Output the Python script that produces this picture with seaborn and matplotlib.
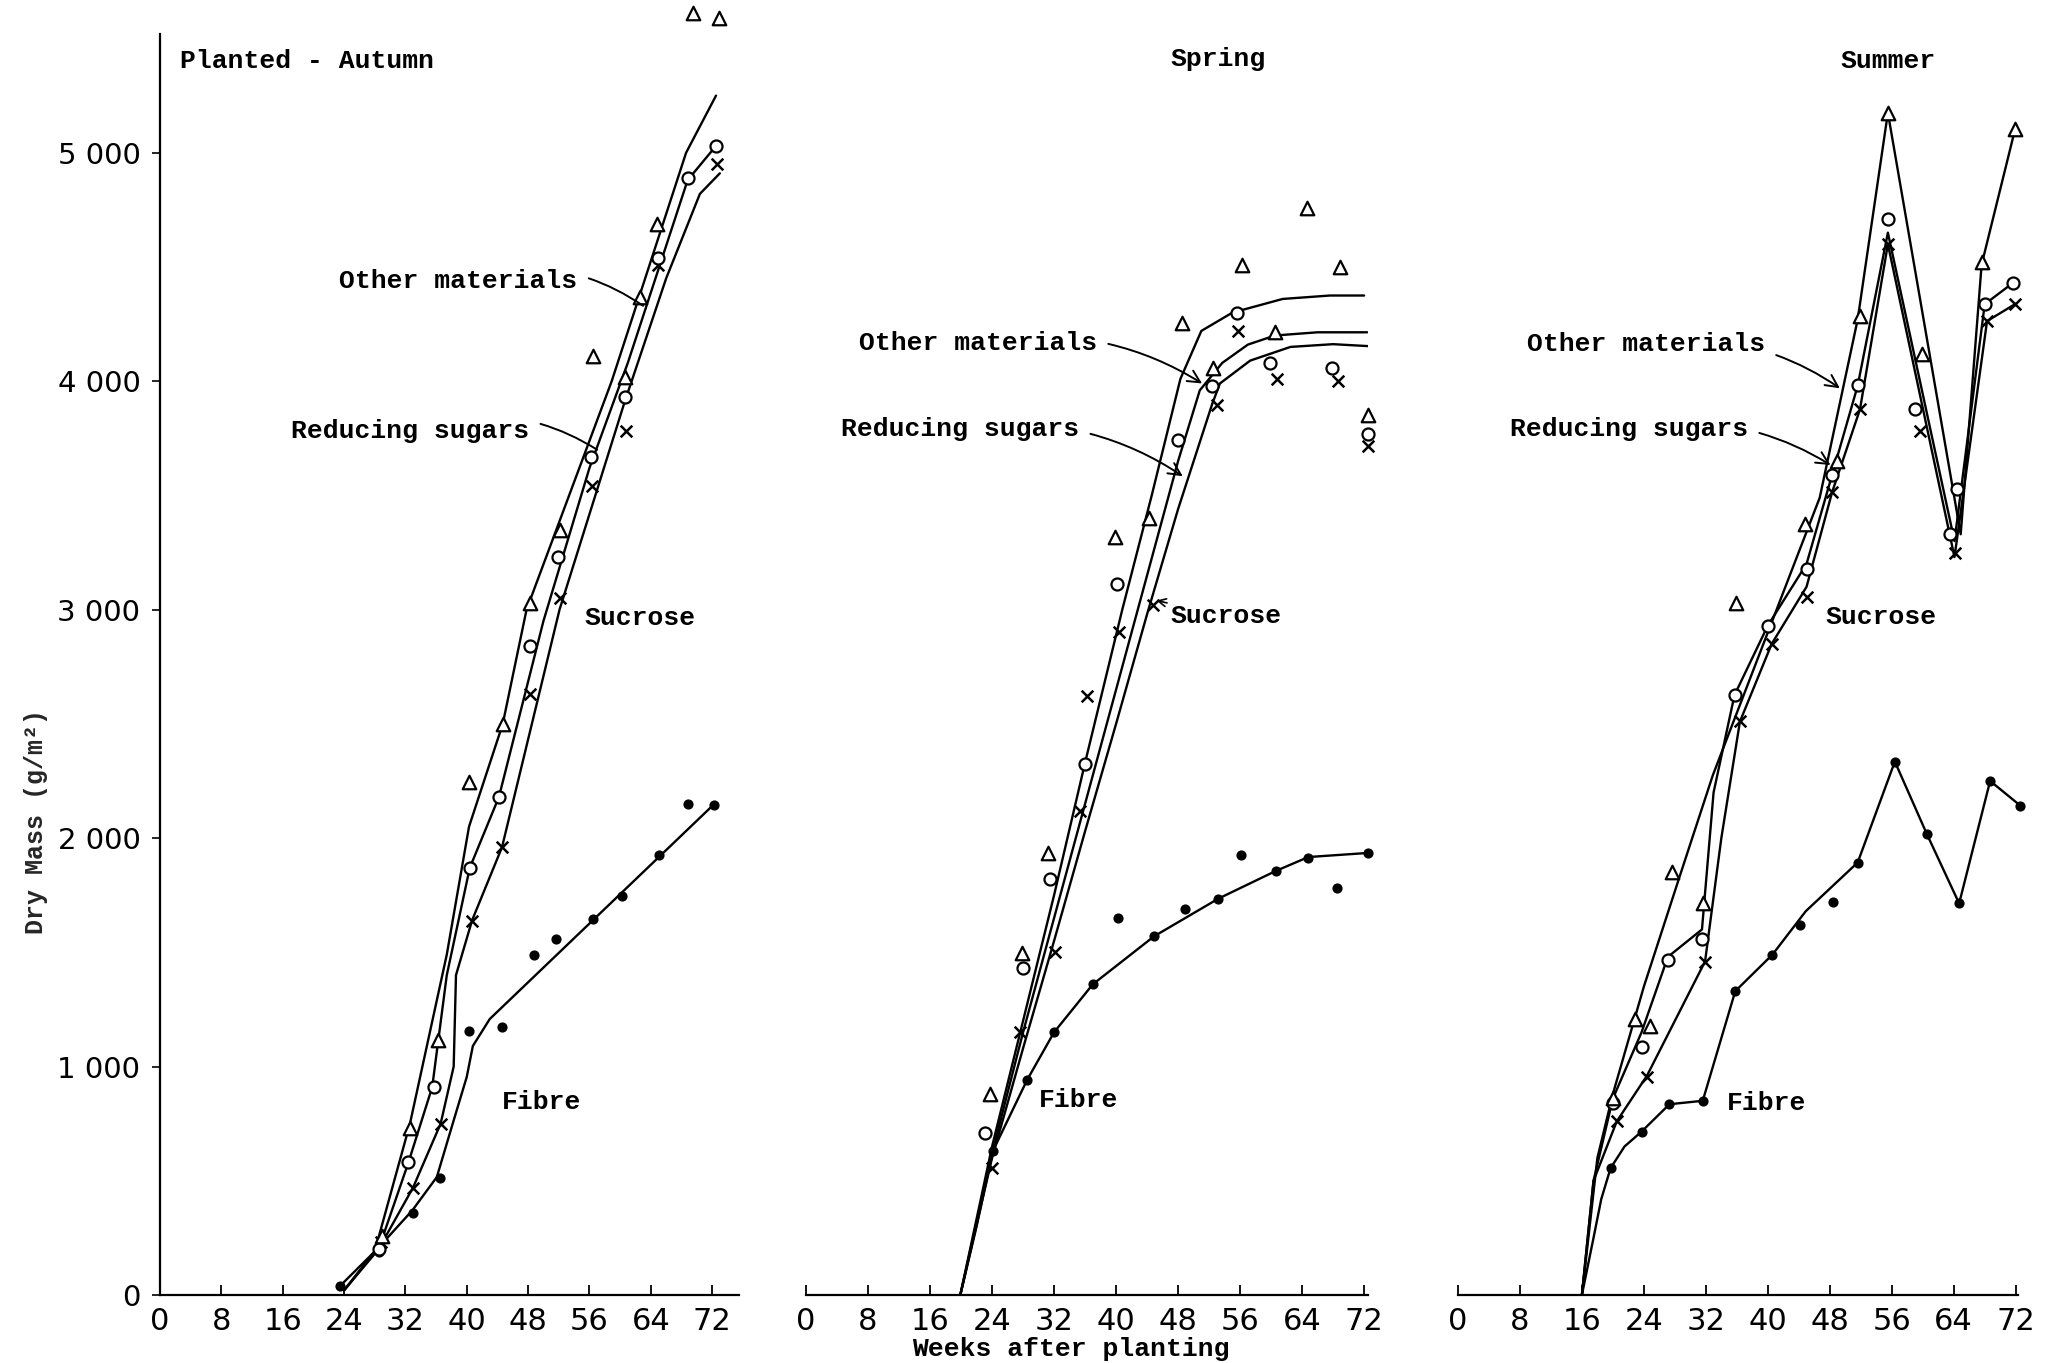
import matplotlib
matplotlib.use("Agg")
import matplotlib.pyplot as plt
import seaborn as sns

# ---- data (weeks after planting, dry mass g/m2) ----
# Planted - Autumn: marker points (cumulative totals)
AUT_FIBRE_WK = [23.5, 28.5, 33, 36.5, 40.3, 44.6, 48.8, 51.7, 56.5, 60.3, 65.1, 68.8, 72.3]
AUT_FIBRE_G = [40, 190, 360, 510, 1155, 1175, 1490, 1560, 1645, 1745, 1925, 2150, 2145]
AUT_SUCROSE_WK = [28.8, 33, 36.6, 40.7, 44.6, 48.2, 52.2, 56.3, 60.8, 65, 72.6]
AUT_SUCROSE_G = [230, 470, 750, 1635, 1960, 2630, 3050, 3540, 3780, 4510, 4950]
AUT_REDUCING_WK = [28.5, 32.4, 35.7, 40.4, 44.2, 48.2, 51.9, 56.2, 60.6, 65, 68.8, 72.5]
AUT_REDUCING_G = [200, 580, 910, 1870, 2180, 2840, 3230, 3670, 3930, 4540, 4890, 5030]
AUT_OTHER_WK = [29, 32.6, 36.3, 40.3, 44.7, 48.2, 52.2, 56.5, 60.6, 62.6, 64.8, 69.5, 72.9]
AUT_OTHER_G = [260, 730, 1115, 2245, 2500, 3030, 3350, 4110, 4020, 4370, 4690, 5610, 5590]
# Autumn: hand-drawn curves
AUT_FIBRE_LINE_WK = [23.5, 28.3, 32.9, 36.1, 38.2, 40.0, 40.8, 43.0, 72.3]
AUT_FIBRE_LINE_G = [40, 200, 370, 516, 753, 954, 1090, 1208, 2150]
AUT_SUCROSE_LINE_WK = [24, 29, 33, 36.6, 38.3, 38.6, 40.7, 44.6, 52.1, 60.5, 66, 70.4, 73]
AUT_SUCROSE_LINE_G = [20, 230, 470, 750, 1000, 1400, 1640, 1960, 3000, 3900, 4450, 4820, 4910]
AUT_REDUCING_LINE_WK = [24, 28.5, 32.4, 35.5, 37.4, 40.4, 44.2, 50, 56, 61, 68.8, 72.5]
AUT_REDUCING_LINE_G = [20, 200, 580, 910, 1400, 1870, 2180, 2950, 3620, 4080, 4880, 5030]
AUT_OTHER_LINE_WK = [24, 28, 32.6, 37.4, 40.3, 44.7, 47.8, 58.9, 68.6, 72.5]
AUT_OTHER_LINE_G = [20, 190, 750, 1490, 2050, 2500, 3000, 4000, 5000, 5250]

# Spring
SPR_FIBRE_WK = [24.1, 28.5, 32, 37, 40.3, 44.9, 48.9, 53.2, 56.1, 60.6, 64.8, 68.5, 72.5]
SPR_FIBRE_G = [630, 940, 1150, 1360, 1650, 1570, 1690, 1735, 1925, 1855, 1915, 1780, 1935]
SPR_SUCROSE_WK = [24, 27.6, 32.1, 35.4, 36.2, 40.4, 44.8, 53, 55.7, 60.8, 68.6, 72.5]
SPR_SUCROSE_G = [556, 1150, 1500, 2120, 2620, 2900, 3020, 3895, 4220, 4010, 4000, 3716]
SPR_REDUCING_WK = [23.1, 28, 31.5, 36, 40.1, 48, 52.4, 55.6, 59.9, 67.9, 72.5]
SPR_REDUCING_G = [709, 1431, 1820, 2324, 3112, 3742, 3978, 4298, 4079, 4057, 3770]
SPR_OTHER_WK = [23.7, 27.9, 31.2, 39.8, 44.2, 48.5, 52.5, 56.3, 60.5, 64.6, 68.9, 72.5]
SPR_OTHER_G = [880, 1497, 1934, 3320, 3400, 4254, 4057, 4507, 4214, 4757, 4499, 3851]
SPR_FIBRE_LINE_WK = [19.9, 22, 24.1, 28.5, 32, 37, 44.9, 53.2, 60.6, 64.8, 72.5]
SPR_FIBRE_LINE_G = [0, 300, 630, 940, 1150, 1360, 1570, 1735, 1856, 1917, 1935]
SPR_SUCROSE_LINE_WK = [19.9, 24, 28, 32, 36, 40, 44, 48, 52.4, 53.4, 57.3, 62.5, 68, 72.8]
SPR_SUCROSE_LINE_G = [0, 600, 1080, 1550, 2030, 2500, 2980, 3440, 3900, 3990, 4090, 4150, 4162, 4153]
SPR_REDUCING_LINE_WK = [19.9, 24, 28, 32, 36, 40, 44, 48, 50.8, 53.7, 57, 60.5, 66, 72.4]
SPR_REDUCING_LINE_G = [0, 620, 1150, 1650, 2150, 2650, 3150, 3650, 3960, 4080, 4160, 4200, 4214, 4214]
SPR_OTHER_LINE_WK = [19.9, 24, 28, 32, 36, 40.8, 44.6, 48.3, 51, 55, 61.5, 67.6, 72]
SPR_OTHER_LINE_G = [0, 650, 1200, 1750, 2330, 3000, 3500, 4010, 4220, 4300, 4360, 4375, 4375]

# Summer
SUM_FIBRE_WK = [19.7, 23.7, 27.3, 31.6, 35.8, 40.6, 44.2, 48.4, 51.6, 56.4, 60.5, 64.7, 68.7, 72.6]
SUM_FIBRE_G = [555, 715, 835, 850, 1330, 1490, 1620, 1720, 1893, 2335, 2020, 1714, 2250, 2142]
SUM_SUCROSE_WK = [20.5, 24.4, 31.9, 36.4, 40.5, 45.0, 48.3, 51.9, 55.5, 59.6, 64.1, 68.3, 71.9]
SUM_SUCROSE_G = [760, 955, 1457, 2512, 2849, 3055, 3514, 3877, 4600, 3781, 3250, 4263, 4337]
SUM_REDUCING_WK = [20, 23.7, 27.1, 31.5, 35.7, 40, 45, 48.3, 51.6, 55.5, 59, 63.5, 64.4, 68, 71.6]
SUM_REDUCING_G = [840, 1085, 1466, 1558, 2626, 2928, 3180, 3589, 3982, 4710, 3877, 3330, 3530, 4337, 4429]
SUM_OTHER_WK = [20, 22.8, 24.8, 27.6, 31.6, 35.9, 44.8, 48.9, 51.9, 55.5, 59.9, 67.6, 71.9]
SUM_OTHER_G = [862, 1208, 1177, 1851, 1715, 3028, 3375, 3650, 4284, 5175, 4120, 4520, 5105]
SUM_FIBRE_LINE_WK = [16, 17.5, 18.5, 19.7, 21.5, 23.7, 27.3, 31.6, 35.8, 40.6, 44.9, 51.6, 56.4, 60.5, 64.7, 68.7, 72.6]
SUM_FIBRE_LINE_G = [0, 250, 420, 555, 650, 715, 835, 850, 1330, 1490, 1680, 1893, 2335, 2020, 1714, 2250, 2142]
SUM_SUCROSE_LINE_WK = [16, 17.5, 20.5, 24.4, 31.9, 34, 36.4, 40.5, 45, 48.3, 51.9, 55.5, 64.1, 68.3, 71.9]
SUM_SUCROSE_LINE_G = [0, 500, 760, 960, 1460, 2000, 2510, 2850, 3100, 3514, 3877, 4600, 3230, 4263, 4337]
SUM_REDUCING_LINE_WK = [16, 17.5, 20, 23.7, 27.1, 31.5, 33, 35.7, 40, 45, 48.3, 51.6, 55.5, 64.1, 68, 71.6]
SUM_REDUCING_LINE_G = [0, 500, 860, 1150, 1480, 1600, 2200, 2626, 2930, 3200, 3590, 3980, 4650, 3300, 4337, 4429]
SUM_OTHER_LINE_WK = [16, 18, 20, 24, 28.6, 32.9, 40, 46.7, 51.6, 55.5, 64.9, 67.6, 71.9]
SUM_OTHER_LINE_G = [0, 600, 880, 1350, 1830, 2275, 2900, 3490, 4270, 5175, 3330, 4510, 5100]

WEEK_TICKS = [0, 8, 16, 24, 32, 40, 48, 56, 64, 72]
MASS_TICKS = [0, 1000, 2000, 3000, 4000, 5000]
MASS_LABELS = ["0", "1 000", "2 000", "3 000", "4 000", "5 000"]

MONO = ["Liberation Mono", "DejaVu Sans Mono"]
TXT = dict(fontsize=19, fontweight="bold", family=MONO, color="black")

sns.set_style("white")
plt.rcParams["font.family"] = ["DejaVu Sans"]

fig = plt.figure(figsize=(20.5, 13.63), dpi=100)
bottom, height = 0.0499, 0.9252
ax1 = fig.add_axes([0.0780, bottom, 0.2825, height])
ax2 = fig.add_axes([0.3932, bottom, 0.2741, height])
ax3 = fig.add_axes([0.7112, bottom, 0.2732, height])


def draw_panel(ax, lines, points):
    for wk, g in lines:
        sns.lineplot(x=wk, y=g, ax=ax, color="black", linewidth=1.7,
                     sort=False, estimator=None, zorder=2)
    (fw, fg), (sw, sg), (rw, rg), (ow, og) = points
    sns.scatterplot(x=fw, y=fg, ax=ax, marker="o", s=40, color="black",
                    edgecolor="black", linewidth=1, zorder=3, clip_on=False)
    sns.scatterplot(x=sw, y=sg, ax=ax, marker="x", s=70, color="black",
                    linewidth=1.8, zorder=3, clip_on=False)
    sns.scatterplot(x=rw, y=rg, ax=ax, marker="o", s=75, color="white",
                    edgecolor="black", linewidth=1.6, zorder=3, clip_on=False)
    sns.scatterplot(x=ow, y=og, ax=ax, marker="^", s=95, color="white",
                    edgecolor="black", linewidth=1.6, zorder=3, clip_on=False)


draw_panel(ax1,
           [(AUT_FIBRE_LINE_WK, AUT_FIBRE_LINE_G), (AUT_SUCROSE_LINE_WK, AUT_SUCROSE_LINE_G),
            (AUT_REDUCING_LINE_WK, AUT_REDUCING_LINE_G), (AUT_OTHER_LINE_WK, AUT_OTHER_LINE_G)],
           [(AUT_FIBRE_WK, AUT_FIBRE_G), (AUT_SUCROSE_WK, AUT_SUCROSE_G),
            (AUT_REDUCING_WK, AUT_REDUCING_G), (AUT_OTHER_WK, AUT_OTHER_G)])
draw_panel(ax2,
           [(SPR_FIBRE_LINE_WK, SPR_FIBRE_LINE_G), (SPR_SUCROSE_LINE_WK, SPR_SUCROSE_LINE_G),
            (SPR_REDUCING_LINE_WK, SPR_REDUCING_LINE_G), (SPR_OTHER_LINE_WK, SPR_OTHER_LINE_G)],
           [(SPR_FIBRE_WK, SPR_FIBRE_G), (SPR_SUCROSE_WK, SPR_SUCROSE_G),
            (SPR_REDUCING_WK, SPR_REDUCING_G), (SPR_OTHER_WK, SPR_OTHER_G)])
draw_panel(ax3,
           [(SUM_FIBRE_LINE_WK, SUM_FIBRE_LINE_G), (SUM_SUCROSE_LINE_WK, SUM_SUCROSE_LINE_G),
            (SUM_REDUCING_LINE_WK, SUM_REDUCING_LINE_G), (SUM_OTHER_LINE_WK, SUM_OTHER_LINE_G)],
           [(SUM_FIBRE_WK, SUM_FIBRE_G), (SUM_SUCROSE_WK, SUM_SUCROSE_G),
            (SUM_REDUCING_WK, SUM_REDUCING_G), (SUM_OTHER_WK, SUM_OTHER_G)])

for ax, right in [(ax1, 75.5), (ax2, 72.5), (ax3, 72.3)]:
    ax.set_xlim(0, right)
    ax.set_ylim(0, 5520)
    ax.set_facecolor("none")
    ax.set_xlabel("")
    ax.set_ylabel("")
    for side in ["top", "right", "left"]:
        ax.spines[side].set_visible(False)
    ax.spines["bottom"].set_linewidth(1.6)
    ax.spines["bottom"].set_color("black")
    ax.set_xticks(WEEK_TICKS)
    ax.set_xticklabels([str(w) for w in WEEK_TICKS])
    ax.tick_params(axis="x", direction="in", length=7, width=1.3, pad=9,
                   labelsize=22, colors="black", bottom=True)
    ax.set_yticks([])

ax1.spines["left"].set_visible(True)
ax1.spines["left"].set_linewidth(1.6)
ax1.spines["left"].set_color("black")
ax1.set_yticks(MASS_TICKS)
ax1.set_yticklabels(MASS_LABELS)
ax1.tick_params(axis="y", direction="out", length=6, width=1.2, pad=8,
                labelsize=21, colors="black", left=True)

# panel titles
ax1.text(2.6, 5400, "Planted - Autumn", ha="left", va="center", **TXT)
ax2.text(47.0, 5411, "Spring", ha="left", va="center", **TXT)
ax3.text(49.4, 5400, "Summer", ha="left", va="center", **TXT)

# curve labels
line_arrow = dict(arrowstyle="-", color="black", lw=1.4, shrinkA=6, shrinkB=0,
                  connectionstyle="arc3,rad=-0.25")
head_arrow = dict(arrowstyle="->", color="black", lw=1.4, shrinkA=6, shrinkB=0,
                  connectionstyle="arc3,rad=-0.2", mutation_scale=22)

ax1.annotate("Other materials", xy=(63.0, 4330), xytext=(23.4, 4440),
             ha="left", va="center", arrowprops=line_arrow, **TXT)
ax1.annotate("Reducing sugars", xy=(57.0, 3700), xytext=(17.1, 3780),
             ha="left", va="center", arrowprops=line_arrow, **TXT)
ax1.text(55.3, 2963, "Sucrose", ha="left", va="center", **TXT)
ax1.text(44.6, 845, "Fibre", ha="left", va="center", **TXT)

ax2.annotate("Other materials", xy=(51.1, 3990), xytext=(6.8, 4166),
             ha="left", va="center", arrowprops=head_arrow, **TXT)
ax2.annotate("Reducing sugars", xy=(48.6, 3584), xytext=(4.5, 3790),
             ha="left", va="center", arrowprops=head_arrow, **TXT)
ax2.annotate("Sucrose", xy=(45.2, 3040), xytext=(47.0, 2971),
             ha="left", va="center",
             arrowprops=dict(arrowstyle="->", color="black", lw=1.2, shrinkA=0, shrinkB=0,
                             mutation_scale=14), **TXT)
ax2.text(30.1, 853, "Fibre", ha="left", va="center", **TXT)

ax3.annotate("Other materials", xy=(49.3, 3969), xytext=(8.9, 4164),
             ha="left", va="center", arrowprops=head_arrow, **TXT)
ax3.annotate("Reducing sugars", xy=(48.1, 3633), xytext=(6.7, 3790),
             ha="left", va="center", arrowprops=head_arrow, **TXT)
ax3.text(47.4, 2967, "Sucrose", ha="left", va="center", **TXT)
ax3.text(34.7, 840, "Fibre", ha="left", va="center", **TXT)

fig.text(0.5224, 0.0103, "Weeks after planting", ha="center", va="center", **TXT)
fig.text(0.0178, 0.397, "Dry Mass (g/m²)", rotation=90, ha="center", va="center",
         fontsize=18, fontweight="bold", family=MONO)

fig.savefig("out.png", dpi=100, facecolor="white")
